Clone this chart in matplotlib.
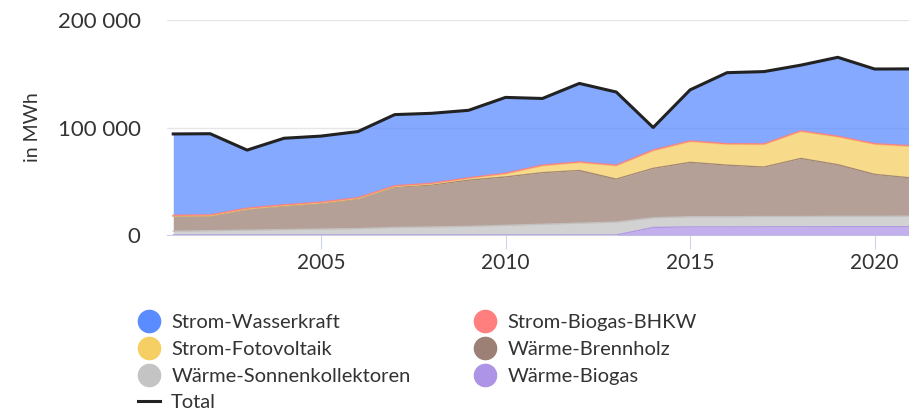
import numpy as np
import matplotlib.pyplot as plt
from matplotlib.lines import Line2D

plt.rcParams['font.family'] = ['Lato', 'DejaVu Sans']

years = list(range(2001, 2022))

# MWh per source
wasserkraft = [75600, 75800, 54000, 61900, 61400, 61800, 66200, 64800, 62800, 70500, 62000,
               73000, 68000, 21000, 47500, 66000, 67200, 61100, 73400, 69400, 72000]
biogas_bhkw = [700, 700, 700, 700, 700, 700, 700, 700, 700, 700, 700,
               700, 700, 700, 700, 700, 700, 700, 700, 700, 700]
fotovoltaik = [200, 300, 300, 400, 400, 500, 600, 1000, 1500, 2800, 6300,
               7300, 12300, 16300, 19200, 19300, 20900, 25000, 25800, 27900, 29300]
brennholz = [14000, 13700, 19500, 22000, 24000, 27500, 37500, 39000, 43000, 45000, 48000,
             49000, 40000, 46000, 50600, 48000, 46000, 54000, 48000, 39000, 35500]
sonnenkoll = [3500, 4000, 4500, 5000, 5500, 6000, 7000, 7500, 8000, 9000, 10000,
              11000, 12000, 9000, 9500, 9500, 9600, 9600, 9700, 9700, 9800]
waerme_biogas = [0, 0, 0, 0, 0, 0, 0, 0, 0, 0, 0,
                 0, 0, 7000, 7500, 7500, 7600, 7600, 7700, 7700, 7700]
total = [94000, 94200, 79000, 90000, 92000, 96200, 112000, 113200, 116000, 128000, 127000,
         141000, 133000, 100000, 135000, 151000, 152000, 158000, 165300, 154400, 154500]

names = ['Strom-Wasserkraft', 'Strom-Biogas-BHKW', 'Strom-Fotovoltaik',
         'Wärme-Brennholz', 'Wärme-Sonnenkollektoren', 'Wärme-Biogas']
colors = ['#5b8cff', '#ff7f7f', '#f5cf63', '#9c8075', '#c4c4c4', '#ae94e6']
series = [wasserkraft, biogas_bhkw, fotovoltaik, brennholz, sonnenkoll, waerme_biogas]

fig = plt.figure(figsize=(9.09, 4.16), dpi=100)
ax = fig.add_axes([167 / 909, 1 - 235 / 416, 742 / 909, 215 / 416])

# stack bottom-up: last series at the bottom
base = np.zeros(len(years))
for vals, col in zip(series[::-1], colors[::-1]):
    top = base + np.array(vals)
    ax.fill_between(years, base, top, color=col, alpha=0.75, lw=0, zorder=2)
    ax.plot(years, top, color=col, lw=1, alpha=0.9, zorder=3)
    base = top

ax.plot(years, total, color='#222222', lw=2.2, zorder=4)

ax.set_xlim(2000.83, 2020.93)
ax.set_ylim(0, 200000)
ax.set_yticks([0, 100000, 200000])
ax.set_yticklabels(['0', '100 000', '200 000'])
ax.set_xticks([2005, 2010, 2015, 2020])
ax.yaxis.grid(True, color='#e6e6e6', lw=1)
ax.set_axisbelow(True)
for s in ['top', 'right', 'left']:
    ax.spines[s].set_visible(False)
ax.spines['bottom'].set_color('#ccd6eb')
ax.spines['bottom'].set_zorder(1)
ax.tick_params(axis='x', length=10, color='#ccd6eb', labelsize=15, labelcolor='#333333', pad=3)
ax.tick_params(axis='y', length=0, labelsize=16, labelcolor='#333333', pad=19)
ax.set_ylabel('in MWh', fontsize=14, color='#333333', labelpad=12)

def circle(c):
    return Line2D([], [], marker='o', ls='', markersize=16, markerfacecolor=c, markeredgecolor=c)

h1 = [circle(colors[0]), circle(colors[2]), circle(colors[4]),
      Line2D([], [], color='#222222', lw=2.2)]
l1 = [names[0], names[2], names[4], 'Total']
h2 = [circle(colors[1]), circle(colors[3]), circle(colors[5])]
l2 = [names[1], names[3], names[5]]
kw = dict(frameon=False, fontsize=14.5, handlelength=1.1, handletextpad=0.55,
          labelspacing=0.48, borderaxespad=0, borderpad=0)
leg1 = fig.legend(h1, l1, loc='upper left', bbox_to_anchor=(138 / 909, 1 - 314 / 416), **kw)
leg2 = fig.legend(h2, l2, loc='upper left', bbox_to_anchor=(474 / 909, 1 - 314 / 416), **kw)
for leg in (leg1, leg2):
    for t in leg.get_texts():
        t.set_color('#333333')

fig.savefig('out.png', dpi=100)
